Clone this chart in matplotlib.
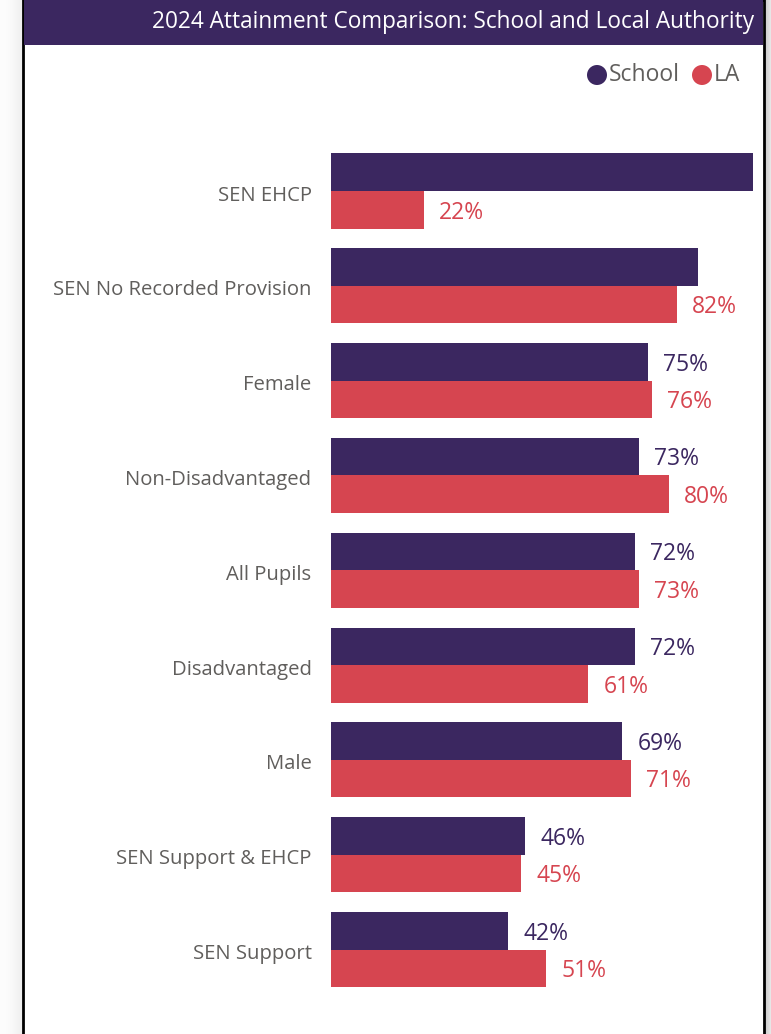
import numpy as np
import matplotlib.pyplot as plt
from matplotlib.patches import Rectangle, Ellipse
from matplotlib.transforms import ScaledTranslation

plt.rcParams['font.family'] = ['Open Sans', 'DejaVu Sans']

categories = ["SEN EHCP", "SEN No Recorded Provision", "Female", "Non-Disadvantaged",
              "All Pupils", "Disadvantaged", "Male", "SEN Support & EHCP", "SEN Support"]
school = [100, 87, 75, 73, 72, 72, 69, 46, 42]
la = [22, 82, 76, 80, 73, 61, 71, 45, 51]
# labels that did not fit inside the visual are not shown
school_shown = [False, False, True, True, True, True, True, True, True]

purple = "#3B2760"
red = "#D64550"
grey_txt = "#605E5C"

W, H = 771, 1034
fig = plt.figure(figsize=(W / 100, H / 100), dpi=100)
fig.patch.set_facecolor("white")

def px_rect(x0, y0, x1, y1, **kw):
    # rectangle given in pixel coords from the top-left corner
    fig.patches.append(Rectangle((x0 / W, 1 - y1 / H), (x1 - x0) / W, (y1 - y0) / H,
                                 transform=fig.transFigure, **kw))

def px_dot(x, y, r, color):
    fig.patches.append(Ellipse((x / W, 1 - y / H), 2 * r / W, 2 * r / H,
                               transform=fig.transFigure, facecolor=color,
                               edgecolor="none", zorder=3))

# shadow around the card
for i in range(23):
    g = 0.99 - 0.06 * (i / 22) ** 2
    px_rect(i, 0, i + 1, H, facecolor=(g, g, g), edgecolor="none", zorder=0)
for i in range(8):
    g = 0.78 + 0.02 * i
    px_rect(764 + i, 0, 765 + i, H, facecolor=(g, g, g), edgecolor="none", zorder=0)

# card border and title bar
px_rect(23, 0, 764, H + 5, facecolor="white", edgecolor="black", linewidth=2, zorder=1)
px_rect(24, 0, 763, 45, facecolor=purple, edgecolor="none", zorder=2)
fig.text(754 / W, 1 - 22 / H, "2024 Attainment Comparison: School and Local Authority",
         color="white", fontsize=16.3, ha="right", va="center", zorder=3)

# legend
px_dot(597, 75, 10, purple)
fig.text(609 / W, 1 - 75 / H, "School", color=grey_txt, fontsize=16.5, ha="left", va="center")
px_dot(702, 75, 10, red)
fig.text(714 / W, 1 - 75 / H, "LA", color=grey_txt, fontsize=16.5, ha="left", va="center")

ax = fig.add_axes([331 / W, (H - 997) / H, 422 / W, (997 - 143.6) / H])
ax.set_zorder(5)
ax.set_facecolor("none")
y = np.arange(len(categories))
h = 0.396
ax.barh(y - h / 2, school, height=h, color=purple, zorder=2)
ax.barh(y + h / 2, la, height=h, color=red, zorder=2)

for i in range(len(categories)):
    if school_shown[i]:
        ax.annotate(f"{school[i]}%", (school[i], y[i] - h / 2), xytext=(11, -2),
                    textcoords="offset points", va="center", ha="left",
                    color=purple, fontsize=16.5)
    ax.annotate(f"{la[i]}%", (la[i], y[i] + h / 2), xytext=(11, -2),
                textcoords="offset points", va="center", ha="left",
                color=red, fontsize=16.5)

ax.set_xlim(0, 100)
ax.set_ylim(len(categories) - 0.5, -0.5)
ax.set_yticks(y)
ax.set_yticklabels(categories, color=grey_txt, fontsize=14.6)
ax.tick_params(axis="y", length=0, pad=14)
# nudge category labels down a touch
shift = ScaledTranslation(0, -2 / 100, fig.dpi_scale_trans)
for lab in ax.get_yticklabels():
    lab.set_transform(lab.get_transform() + shift)
ax.set_xticks([])
for s in ax.spines.values():
    s.set_visible(False)

fig.savefig("out.png", dpi=100)
